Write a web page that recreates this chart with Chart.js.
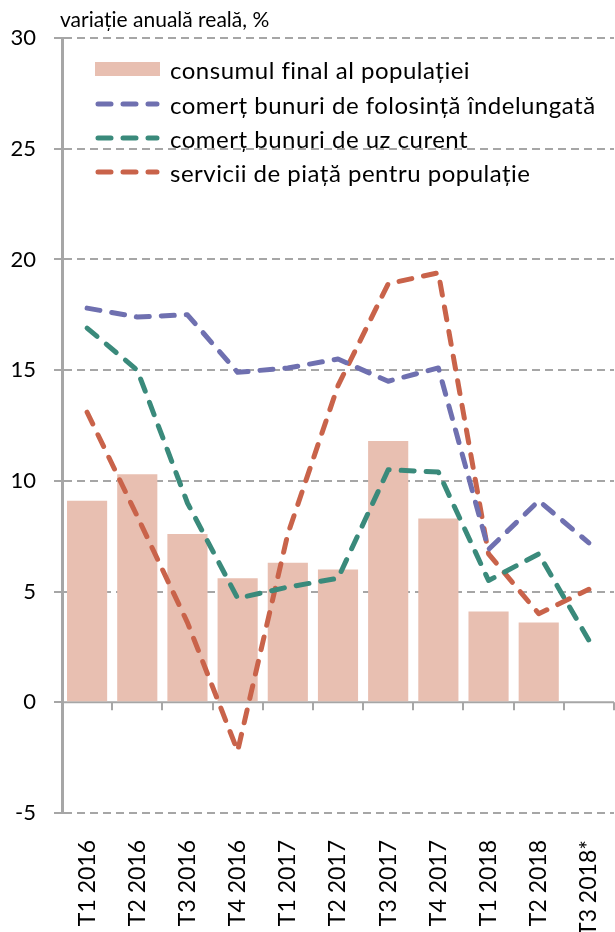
<!DOCTYPE html>
<html>
<head>
<meta charset="utf-8">
<script src="https://cdn.jsdelivr.net/npm/chart.js@4"></script>
<style>
  html, body { margin: 0; padding: 0; background: #fff; }
  canvas { display: block; }
</style>
</head>
<body>
<canvas id="chart" width="615" height="932"></canvas>
<script>
const categories = ["T1 2016", "T2 2016", "T3 2016", "T4 2016", "T1 2017", "T2 2017",
    "T3 2017", "T4 2017", "T1 2018", "T2 2018", "T3 2018*"];
const consumFinal = [9.1, 10.3, 7.6, 5.6, 6.3, 6.0, 11.8, 8.3, 4.1, 3.6, null];
const bunuriFolosinta = [17.8, 17.4, 17.5, 14.9, 15.1, 15.5, 14.5, 15.1, 6.9, 9.1, 7.2];
const bunuriUzCurent = [16.9, 15.0, 9.0, 4.7, 5.2, 5.6, 10.5, 10.4, 5.5, 6.7, 2.8];
const serviciiPiata = [13.1, 8.4, 3.6, -2.2, 7.6, 14.3, 18.9, 19.4, 6.7, 4.0, 5.1];
const yTicks = [-5, 0, 5, 10, 15, 20, 25, 30];

const FONT = "Lato, 'Open Sans', sans-serif";
const GREY = "#a6a6a6";
const DASH = [13, 12];

const lineSet = (label, data, color) => ({
    type: "line",
    label: label,
    data: data,
    borderColor: color,
    backgroundColor: color,
    borderWidth: 5,
    borderDash: DASH,
    borderCapStyle: "round",
    borderJoinStyle: "round",
    pointRadius: 0,
    tension: 0,
    fill: false,
    order: 1
});

// zero line with category ticks, drawn under the bars
const zeroAxis = {
    id: "zeroAxis",
    beforeDatasetsDraw(chart) {
        const { ctx, chartArea, scales: { x, y } } = chart;
        const y0 = y.getPixelForValue(0);
        ctx.save();
        ctx.strokeStyle = GREY;
        ctx.lineWidth = 2;
        ctx.beginPath();
        ctx.moveTo(chartArea.left, y0);
        ctx.lineTo(chartArea.right, y0);
        for (let i = 0; i <= categories.length; i++) {
            const px = Math.round(x.getPixelForValue(i - 0.5));
            ctx.moveTo(px, y0);
            ctx.lineTo(px, y0 + 8);
        }
        ctx.stroke();
        ctx.restore();
    }
};

// unit label and legend inside the plot
const labelsBox = {
    id: "labelsBox",
    afterDraw(chart) {
        const { ctx, chartArea } = chart;
        ctx.save();
        ctx.fillStyle = "#000";
        ctx.textBaseline = "middle";
        ctx.font = "21px " + FONT;
        ctx.fillText("variație anuală reală, %", chartArea.left - 2, 20);

        ctx.font = "24px " + FONT;
        const left = 95, w = 65, rowY = [69, 104, 138, 172];
        chart.data.datasets.forEach((ds, i) => {
            const yy = rowY[i];
            if (ds.type === "line") {
                ctx.strokeStyle = ds.borderColor;
                ctx.lineWidth = ds.borderWidth;
                ctx.lineCap = "round";
                ctx.setLineDash(ds.borderDash);
                ctx.beginPath();
                ctx.moveTo(left + 3, yy);
                ctx.lineTo(left + w - 3, yy);
                ctx.stroke();
                ctx.setLineDash([]);
            } else {
                ctx.fillStyle = ds.backgroundColor;
                ctx.fillRect(left, yy - 7, w, 14);
            }
            ctx.fillStyle = "#000";
            ctx.letterSpacing = "0.5px";
            ctx.fillText(ds.label, left + w + 10, yy + 2);
            ctx.letterSpacing = "0px";
        });
        ctx.restore();
    }
};

new Chart(document.getElementById("chart"), {
    data: {
        labels: categories,
        datasets: [
            {
                type: "bar",
                label: "consumul final al populației",
                data: consumFinal,
                backgroundColor: "#e8bfb1",
                barPercentage: 0.8,
                categoryPercentage: 1,
                order: 5
            },
            lineSet("comerț bunuri de folosință îndelungată", bunuriFolosinta, "#6f70b0"),
            lineSet("comerț bunuri de uz curent", bunuriUzCurent, "#3a8a7b"),
            lineSet("servicii de piață pentru populație", serviciiPiata, "#c9634a")
        ]
    },
    options: {
        responsive: false,
        animation: false,
        devicePixelRatio: 1,
        layout: { padding: { top: 38, right: 1, left: 0, bottom: 0 } },
        plugins: {
            legend: { display: false },
            tooltip: { enabled: false }
        },
        scales: {
            x: {
                afterFit: (axis) => {
                    axis.height = 119;
                    axis.paddingLeft = 0;
                    axis.paddingRight = 0;
                },
                grid: { display: false },
                border: { display: false },
                ticks: {
                    color: "#000",
                    font: { family: FONT, size: 23 },
                    minRotation: 90,
                    maxRotation: 90,
                    padding: 19,
                    autoSkip: false
                }
            },
            y: {
                min: -5,
                max: 30,
                afterFit: (axis) => {
                    axis.width = 62;
                    axis.paddingTop = 0;
                    axis.paddingBottom = 0;
                },
                afterBuildTicks: (axis) => { axis.ticks = yTicks.map(v => ({ value: v })); },
                grid: {
                    color: (c) => c.tick && c.tick.value === 0 ? "rgba(0,0,0,0)" : GREY,
                    lineWidth: 2,
                    tickColor: GREY,
                    tickWidth: 2,
                    tickLength: 8
                },
                border: { display: true, color: GREY, width: 3, dash: [8, 5] },
                ticks: {
                    color: "#000",
                    font: { family: FONT, size: 22 },
                    padding: 18
                }
            }
        }
    },
    plugins: [zeroAxis, labelsBox]
});
</script>
</body>
</html>
